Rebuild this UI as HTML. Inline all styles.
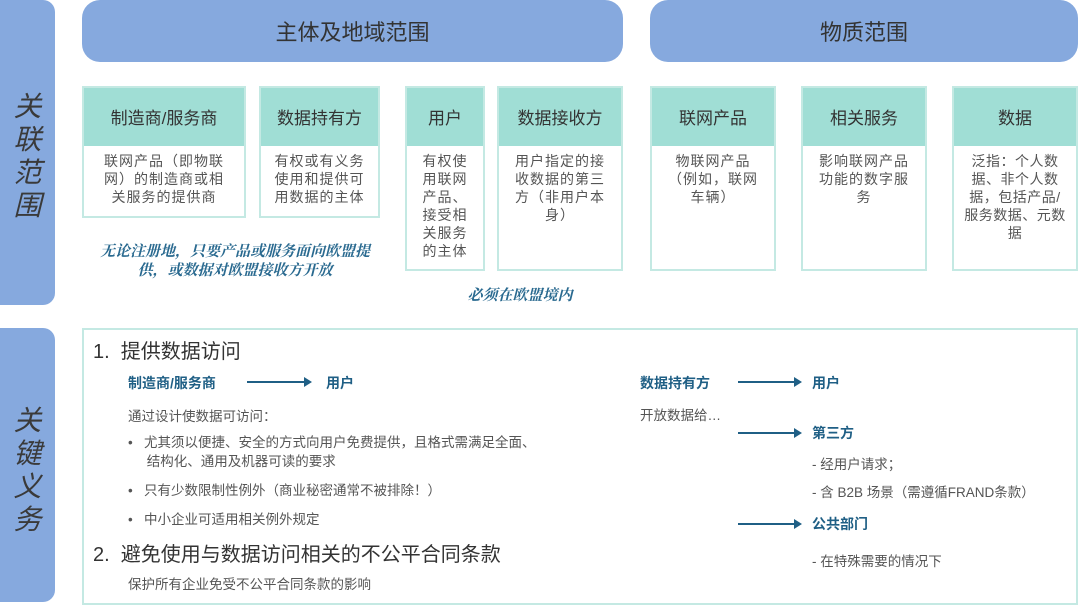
<!DOCTYPE html>
<html><head><meta charset="utf-8"><style>
body{margin:0;width:1080px;height:607px;position:relative;background:#fff;font-family:"Liberation Sans","Noto Sans CJK SC",sans-serif;overflow:hidden;color:#404040}
.a{position:absolute}
.side{background:#86a9de;border-radius:0 12px 12px 0;left:0;width:55px}
.side span{display:block;text-align:center;font-size:28px;font-style:italic;color:#3a3a3a;line-height:33px}
.ban{background:#86a9de;border-radius:18px;top:0;height:62px;display:flex;align-items:center;justify-content:center;font-size:22px;color:#333}
.card{position:absolute;top:86px;border:2px solid #c4e9e3;box-sizing:border-box;background:#fff}
.card .h{background:#a0ded5;height:58px;display:flex;align-items:center;justify-content:center;font-size:17px;color:#333;padding-bottom:2px;box-sizing:border-box}
.card .b{font-size:14px;line-height:18px;text-align:center;padding:6px 14px;color:#555;letter-spacing:1px}
.note{color:#2a6a90;font-style:italic;font-weight:bold;font-size:15px;text-align:center;font-family:"Liberation Serif","Noto Serif CJK SC",serif}
.bl{color:#1f5f85;font-weight:bold;font-size:14px}
.t{font-size:13.5px;color:#555}
.arr{height:2px;background:#1f5f85}
.arr:after{content:"";position:absolute;right:-2px;top:-4px;border-left:8px solid #1f5f85;border-top:5px solid transparent;border-bottom:5px solid transparent}
</style></head><body>
<div class="a side" style="top:0;height:305px;padding-top:90px;box-sizing:border-box"><span>关</span><span>联</span><span>范</span><span>围</span></div>
<div class="a side" style="top:328px;height:274px;padding-top:76px;box-sizing:border-box"><span>关</span><span>键</span><span>义</span><span>务</span></div>
<div class="a ban" style="left:82px;width:541px">主体及地域范围</div>
<div class="a ban" style="left:650px;width:428px">物质范围</div>

<div class="card" style="left:82px;width:164px;height:132px"><div class="h">制造商/服务商</div><div class="b">联网产品（即物联网）的制造商或相关服务的提供商</div></div>
<div class="card" style="left:259px;width:121px;height:132px"><div class="h">数据持有方</div><div class="b" style="padding:6px 10px">有权或有义务使用和提供可用数据的主体</div></div>
<div class="card" style="left:405px;width:80px;height:185px"><div class="h">用户</div><div class="b" style="padding:6px 12px">有权使用联网产品、接受相关服务的主体</div></div>
<div class="card" style="left:497px;width:126px;height:185px"><div class="h">数据接收方</div><div class="b">用户指定的接收数据的第三方（非用户本身）</div></div>
<div class="card" style="left:650px;width:126px;height:185px"><div class="h">联网产品</div><div class="b">物联网产品（例如，联网车辆）</div></div>
<div class="card" style="left:801px;width:126px;height:185px"><div class="h">相关服务</div><div class="b">影响联网产品功能的数字服务</div></div>
<div class="card" style="left:952px;width:126px;height:185px"><div class="h">数据</div><div class="b" style="padding:6px 10px;letter-spacing:0.5px">泛指：个人数据、非个人数据，包括产品/服务数据、元数据</div></div>

<div class="a note" style="left:90px;top:243px;width:290px;line-height:19px">无论注册地，只要产品或服务面向欧盟提供，或数据对欧盟接收方开放</div>
<div class="a note" style="left:440px;top:284px;width:160px">必须在欧盟境内</div>

<div class="a" style="left:82px;top:328px;width:996px;height:277px;border:2px solid #c4e9e3;box-sizing:border-box"></div>
<div class="a" style="left:93px;top:335px;font-size:20px;color:#333">1.&nbsp; 提供数据访问</div>
<div class="a bl" style="left:128px;top:373px">制造商/服务商</div>
<div class="a arr" style="left:247px;top:381px;width:63px"></div>
<div class="a bl" style="left:326px;top:373px">用户</div>
<div class="a t" style="left:128px;top:405px">通过设计使数据可访问：</div>
<div class="a t" style="left:128px;top:433px;width:480px;line-height:19px">•&nbsp;&nbsp; 尤其须以便捷、安全的方式向用户免费提供，且格式需满足全面、<br>&nbsp;&nbsp;&nbsp;&nbsp;&nbsp;结构化、通用及机器可读的要求</div>
<div class="a t" style="left:128px;top:479px">•&nbsp;&nbsp; 只有少数限制性例外（商业秘密通常不被排除！）</div>
<div class="a t" style="left:128px;top:508px">•&nbsp;&nbsp; 中小企业可适用相关例外规定</div>
<div class="a" style="left:93px;top:538px;font-size:20px;color:#333">2.&nbsp; 避免使用与数据访问相关的不公平合同条款</div>
<div class="a t" style="left:128px;top:573px">保护所有企业免受不公平合同条款的影响</div>

<div class="a bl" style="left:640px;top:373px">数据持有方</div>
<div class="a arr" style="left:738px;top:381px;width:62px"></div>
<div class="a bl" style="left:812px;top:373px">用户</div>
<div class="a t" style="left:640px;top:404px">开放数据给…</div>
<div class="a arr" style="left:738px;top:432px;width:62px"></div>
<div class="a bl" style="left:812px;top:423px">第三方</div>
<div class="a t" style="left:812px;top:453px">- 经用户请求；</div>
<div class="a t" style="left:812px;top:481px">- 含 B2B 场景（需遵循FRAND条款）</div>
<div class="a arr" style="left:738px;top:523px;width:62px"></div>
<div class="a bl" style="left:812px;top:514px">公共部门</div>
<div class="a t" style="left:812px;top:550px">- 在特殊需要的情况下</div>
</body></html>
